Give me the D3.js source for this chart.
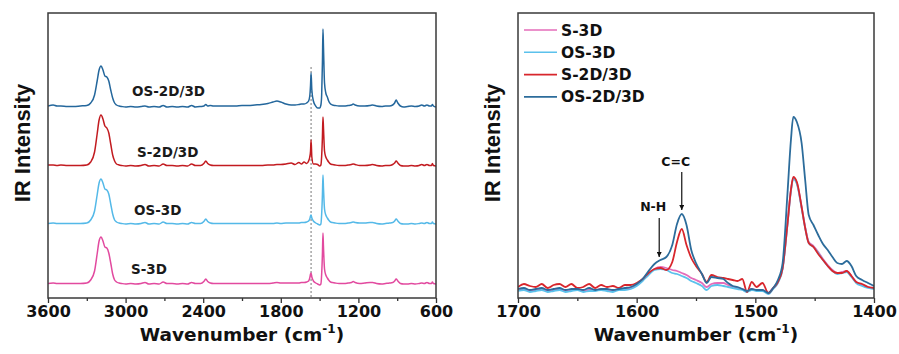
<!DOCTYPE html>
<html>
<head>
<meta charset="utf-8">
<script src="https://cdn.jsdelivr.net/npm/d3@7"></script>
<style>
    body { margin: 0; background: #fff; }
    svg { display: block; font-family: "DejaVu Sans", sans-serif; font-weight: bold; }
</style>
</head>
<body>
<svg id="chart" width="899" height="354"></svg>
<script>
// ---- data: left panel, full range (stacked, heights above own baseline) ----
const SERIES = ['S-3D', 'OS-3D', 'S-2D/3D', 'OS-2D/3D']
const COLORS_L = ['#e24a9f', '#54b9e8', '#c21b20', '#24679c']
const COLORS_R = ['#e46cba', '#5bc1ec', '#d8262c', '#2c6c9b']

const L_WN = [
    3600, 3560, 3530, 3500, 3450, 3400, 3350, 3300, 3270, 3240,
    3220, 3205, 3190, 3175, 3160, 3145, 3130, 3115, 3100, 3085,
    3070, 3050, 3030, 3000, 2960, 2920, 2880, 2850, 2820, 2780,
    2740, 2710, 2680, 2640, 2600, 2560, 2520, 2490, 2460, 2420,
    2395, 2380, 2365, 2345, 2320, 2280, 2240, 2200, 2150, 2100,
    2050, 2000, 1950, 1900, 1860, 1830, 1800, 1760, 1720, 1690,
    1660, 1640, 1620, 1600, 1585, 1576, 1570, 1566, 1560, 1548,
    1530, 1515, 1500, 1490, 1484, 1478, 1474, 1470, 1462, 1452,
    1440, 1430, 1415, 1400, 1380, 1350, 1310, 1280, 1255, 1240,
    1225, 1190, 1150, 1110, 1090, 1060, 1020, 990, 960, 935,
    920, 908, 895, 875, 850, 820, 790, 760, 730, 710,
    690, 670, 650, 635, 628, 620, 600
]
const S3D_L = [
    0.5, 1, 0.5, 0.5, 0.5, 0.5, 0.5, 1, 4, 13,
    30, 43, 47, 43, 37, 36, 31, 21, 10, 4,
    2, 1, 0.5, 0, 0.5, 0, 0.5, 1.5, 0, 0.5,
    0, 2, 0.5, 0.5, 0, 0.5, 0, 1.5, 0.5, 0.5,
    2.5, 5, 2.5, 1, 0.5, 0.5, 0.5, 0.5, 0.5, 0.5,
    0.5, 0.5, 0.5, 0.5, 1, 1.5, 1, 1, 1, 1,
    1, 1.5, 1.5, 2, 3, 6, 10, 11, 7, 3,
    1, 0, -1, 0, 10, 31, 51, 37, 15, 9,
    6, 4, 2, 1.5, 1, 0.5, 0.5, 1, 1.5, 2.5,
    1.5, 0.5, 1, 1.5, 1.5, 0.5, 0, 0.5, 1, 1.5,
    3, 5, 3, 0.5, 0, 0, 0.5, 0, 0.5, 1,
    0.5, 1.5, 0.5, 0.5, 2, 0.5, 0
]
const OS3D_L = [
    0.5, 1, 0.5, 0.5, 0.5, 0.5, 0.5, 1, 4, 13,
    29, 41, 45, 41, 35, 34, 30, 20, 10, 4,
    2, 1, 0.5, 0, 0.5, 0, 0.5, 1.5, 0, 0.5,
    0, 2, 0.5, 0.5, 0, 0.5, 0, 1.5, 0.5, 0.5,
    2.5, 5, 2.5, 1, 0.5, 0.5, 0.5, 0.5, 0.5, 0.5,
    0.5, 0.5, 0.5, 0.5, 0.5, 1, 0.5, 1, 1, 1,
    1, 1.5, 1.5, 2, 3, 5, 8, 9, 6, 3,
    1, 0, -1, 0, 10, 30, 49, 36, 15, 9,
    6, 4, 2, 1.5, 1, 0.5, 0.5, 1, 1.5, 2,
    1.5, 1, 1, 1.5, 1.5, 0.5, 0, 0.5, 1, 1.5,
    3, 5, 3, 0.5, 0, 0, 0.5, 0, 0.5, 1,
    0.5, 1.5, 0.5, 0.5, 2, 0.5, 0
]
const S2D3D_L = [
    1, 1, 0.5, 1, 0.5, 0.5, 0.5, 1, 4, 14,
    32, 46, 51, 47, 40, 38, 33, 22, 11, 5,
    2, 1, 0.5, 0, 0.5, 0, 0.5, 1.5, 0, 0.5,
    0, 2, 0.5, 0.5, 0, 0.5, 0, 2, 0.5, 0.5,
    2.5, 5, 2.5, 1, 0.5, 0.5, 0.5, 0.5, 0.5, 0.5,
    0.5, 0.5, 0.5, 1, 1, 1.5, 1.5, 2, 3, 1.5,
    3.5, 2, 4, 2.5, 5, 9, 15, 26, 9, 2,
    2, 1.5, 0, 1, 10, 30, 49, 38, 15, 9,
    6, 4, 2, 1.5, 1, 0.5, 0.5, 1, 1.5, 2,
    1.5, 0.5, 0.5, 1, 1.5, 0.5, 0, 0.5, 0.5, 1.5,
    3, 5, 3, 0.5, 0, 0, 0.5, 0, 0.5, 1.5,
    0.5, 1.5, 0.5, 0.5, 2.5, 0.5, 0
]
const OS2D3D_L = [
    1, 2, 1, 1, 0.5, 0.5, 1, 1.5, 4, 12,
    26, 37, 41, 37, 31, 30, 26, 17, 9, 4,
    2, 1, 0.5, 0, 0.5, 0, 0.5, 1, 0, 0.5,
    0, 1.5, 0, 0.5, 0, 0.5, 0, 1.5, 0, 0.5,
    1, 2.5, 1, 1.5, 1, 1, 1, 1, 1, 1.5,
    1.5, 2, 2.5, 3.5, 5, 6, 5, 3, 2, 2,
    2.5, 3, 3, 4, 6, 11, 22, 34, 17, 6,
    1, -1, -1, 2, 12, 45, 78, 60, 24, 14,
    10, 6, 3, 2, 1.5, 1, 1, 1.5, 2, 3,
    2, 1, 1, 1.5, 2, 1, 0.5, 1, 1, 2,
    4, 7, 4, 1, 0, 0.5, 1, 0.5, 1, 2,
    1, 2, 1, 1, 2.5, 1, 0
]
const L_OFFSETS = [14, 74, 132, 191]
const L_LABEL_WN = [2958, 2935, 2912, 2950]
const L_LABEL_LIFT = [10, 9, 9, 11]
const L_MAJOR = [3600, 3000, 2400, 1800, 1200, 600]
const L_MINOR = [3300, 2700, 2100, 1500, 900]
const L_MARK_WN = 1566
const L_MARK_TOP = 231

// ---- data: right panel, 1700-1400 zoom ----
const R_WN = [
    1700, 1695, 1690, 1685, 1680, 1675, 1670, 1665, 1660, 1655,
    1650, 1645, 1640, 1635, 1630, 1625, 1620, 1615, 1610, 1605,
    1600, 1595, 1590, 1585, 1580, 1575, 1570, 1566, 1562, 1558,
    1554, 1550, 1545, 1541, 1537, 1532, 1527, 1523, 1519, 1515,
    1511, 1507, 1503, 1499, 1494, 1489, 1485, 1481, 1477, 1473,
    1470, 1468, 1465, 1461, 1458, 1455, 1451, 1447, 1443, 1439,
    1435, 1431, 1427, 1423, 1419, 1415, 1410, 1405, 1400
]
const S3D_R = [
    0, 1, -1, 0, 1, -1, 0, 1, -1, 0,
    1, -1, 0, 0, 1, 0, -1, 1, 1, 2,
    5, 10, 16, 21, 23, 22, 20, 19, 17, 15,
    12, 10, 7, 3, 6, 7, 7, 5, 3, 2,
    1, -1, 1, 0, 0, -3, 2, 8, 22, 65,
    100, 112, 107, 83, 63, 48, 44, 38, 31, 25,
    20, 17, 18, 19, 14, 8, 5, 3, 2
]
const OS3D_R = [
    -1, 0, -2, -1, 0, -2, -1, 0, -2, -1,
    0, -2, -1, -1, 0, -1, -2, 0, 0, 1,
    4, 9, 15, 20, 21, 20, 17, 16, 14, 12,
    9, 7, 4, 0, 4, 5, 4, 3, 2, 1,
    0, -2, 0, -1, -1, -4, 1, 7, 21, 64,
    99, 111, 106, 82, 62, 47, 43, 37, 30, 24,
    19, 16, 17, 18, 13, 7, 4, 2, 1
]
const S2D3D_R = [
    3, 6, 4, 3, 6, 2, 5, 6, 3, 6,
    2, 3, 6, 2, 5, 3, 4, 2, 5, 5,
    7, 11, 17, 21, 22, 20, 28, 48, 61, 45,
    32, 24, 16, 8, 15, 13, 12, 11, 10, 9,
    11, -2, 8, 3, 7, -3, 2, 8, 22, 65,
    100, 113, 108, 83, 62, 47, 43, 36, 30, 24,
    19, 17, 17, 19, 14, 8, 6, 3, 2
]
const OS2D3D_R = [
    1, 2, 0, 1, 2, 0, 1, 2, 0, 1,
    1, 0, 2, 0, 1, 1, 0, 1, 2, 3,
    6, 11, 19, 26, 30, 33, 45, 66, 76, 65,
    40, 27, 16, 7, 13, 12, 11, 7, 4, 3,
    1, -1, 1, 0, 0, -3, 2, 10, 27, 95,
    150, 173, 168, 147, 110, 75, 65, 55, 46, 40,
    33, 27, 26, 29, 24, 14, 10, 7, 4
]
const R_MAJOR = [1700, 1600, 1500, 1400]
const R_MINOR = [1650, 1550, 1450]
// annotations: [label, wavenumber, label level, arrow top, arrow tip]
const R_NOTES = [['N-H', 1581, 79, 72, 33], ['C=C', 1562, 124, 118, 80]]

const svg = d3.select('#chart')
const boxL = { x0: 48, x1: 436, y0: 13, y1: 298 }
const boxR = { x0: 518, x1: 874, y0: 13, y1: 298 }

svg.append('defs').append('marker')
    .attr('id', 'arrow')
    .attr('viewBox', '0 -5 10 10')
    .attr('refX', 10).attr('refY', 0)
    .attr('markerWidth', 5).attr('markerHeight', 5)
    .attr('markerUnits', 'userSpaceOnUse')
    .attr('orient', 'auto')
    .append('path').attr('d', 'M0,-5L10,0L0,5Z').attr('fill', '#111')

function frame(box, x, majors, minors, id) {
    svg.append('clipPath').attr('id', id).append('rect')
        .attr('x', box.x0).attr('y', box.y0)
        .attr('width', box.x1 - box.x0).attr('height', box.y1 - box.y0)

    const ax = svg.append('g').attr('transform', `translate(0,${box.y1})`)
        .call(d3.axisBottom(x).tickValues(majors).tickSize(5).tickSizeOuter(0).tickPadding(3).tickFormat(d3.format('d')))
    ax.select('.domain').remove()
    ax.selectAll('line').attr('stroke', '#333').attr('stroke-width', 1.3)
    ax.selectAll('text').attr('font-size', 16).attr('font-family', '"DejaVu Sans", sans-serif').attr('font-weight', 'bold').attr('fill', '#111')

    const mn = svg.append('g').attr('transform', `translate(0,${box.y1})`)
        .call(d3.axisBottom(x).tickValues(minors).tickSize(3).tickFormat(''))
    mn.select('.domain').remove()
    mn.selectAll('line').attr('stroke', '#333').attr('stroke-width', 1.3)

    const cx = (box.x0 + box.x1) / 2
    const t = svg.append('text').attr('x', cx).attr('y', 341).attr('text-anchor', 'middle')
        .attr('font-size', 18.5).attr('fill', '#111')
    t.append('tspan').text('Wavenumber (cm')
    t.append('tspan').attr('font-size', 12).attr('dy', -8).text('-1')
    t.append('tspan').attr('dy', 8).text(')')

    svg.append('text')
        .attr('transform', `translate(${box.x0 - 18},143) rotate(-90)`)
        .attr('text-anchor', 'middle')
        .attr('font-family', '"Liberation Sans", Arial, sans-serif')
        .attr('font-size', 22).attr('fill', '#111')
        .text('IR Intensity')
}

function box(b) {
    svg.append('rect').attr('x', b.x0).attr('y', b.y0)
        .attr('width', b.x1 - b.x0).attr('height', b.y1 - b.y0)
        .attr('fill', 'none').attr('stroke', '#3a3a3a').attr('stroke-width', 1.5)
}

// ---- left panel ----
const xL = d3.scaleLinear().domain([3600, 600]).range([boxL.x0, boxL.x1])
const yL = d3.scaleLinear().domain([0, 285]).range([boxL.y1, boxL.y0])
frame(boxL, xL, L_MAJOR, L_MINOR, 'clipL')

svg.append('line')
    .attr('x1', xL(L_MARK_WN)).attr('x2', xL(L_MARK_WN))
    .attr('y1', yL(L_MARK_TOP)).attr('y2', yL(0))
    .attr('stroke', '#777').attr('stroke-width', 1).attr('stroke-dasharray', '2,2')

const leftSets = [S3D_L, OS3D_L, S2D3D_L, OS2D3D_L]
const gL = svg.append('g').attr('clip-path', 'url(#clipL)')
leftSets.forEach((vals, i) => {
    const line = d3.line()
        .x((_, j) => xL(L_WN[j]))
        .y(v => yL(v + L_OFFSETS[i]))
        .curve(d3.curveMonotoneX)
    gL.append('path').attr('d', line(vals))
        .attr('fill', 'none').attr('stroke', COLORS_L[i]).attr('stroke-width', 1.5)
    svg.append('text')
        .attr('x', xL(L_LABEL_WN[i])).attr('y', yL(L_OFFSETS[i] + L_LABEL_LIFT[i]))
        .attr('font-size', 13.5).attr('fill', '#1a1a1a')
        .text(SERIES[i])
})
box(boxL)

// ---- right panel ----
const xR = d3.scaleLinear().domain([1700, 1400]).range([boxR.x0, boxR.x1])
const yR = d3.scaleLinear().domain([-8, 277]).range([boxR.y1, boxR.y0])
frame(boxR, xR, R_MAJOR, R_MINOR, 'clipR')

const rightSets = [S3D_R, OS3D_R, S2D3D_R, OS2D3D_R]
const gR = svg.append('g').attr('clip-path', 'url(#clipR)')
rightSets.forEach((vals, i) => {
    const line = d3.line()
        .x((_, j) => xR(R_WN[j]))
        .y(v => yR(v))
        .curve(d3.curveMonotoneX)
    gR.append('path').attr('d', line(vals))
        .attr('fill', 'none').attr('stroke', COLORS_R[i]).attr('stroke-width', 1.8)
})

R_NOTES.forEach(([label, wn, lv, top, tip]) => {
    svg.append('text').attr('x', xR(wn) - 6).attr('y', yR(lv))
        .attr('text-anchor', 'middle').attr('font-size', 12.5).attr('fill', '#111')
        .text(label)
    svg.append('line').attr('x1', xR(wn)).attr('x2', xR(wn))
        .attr('y1', yR(top)).attr('y2', yR(tip))
        .attr('stroke', '#111').attr('stroke-width', 1.2)
        .attr('marker-end', 'url(#arrow)')
})

// legend
const lg = svg.append('g').attr('transform', `translate(${boxR.x0 + 6},30)`)
SERIES.forEach((s, i) => {
    const row = lg.append('g').attr('transform', `translate(0,${i * 22.3})`)
    row.append('line').attr('x1', 0).attr('x2', 33)
        .attr('stroke', COLORS_R[i]).attr('stroke-width', 1.6)
    row.append('text').attr('x', 37).attr('dy', '0.36em')
        .attr('font-size', 15.5).attr('fill', '#111').text(s)
})
box(boxR)
</script>
</body>
</html>
